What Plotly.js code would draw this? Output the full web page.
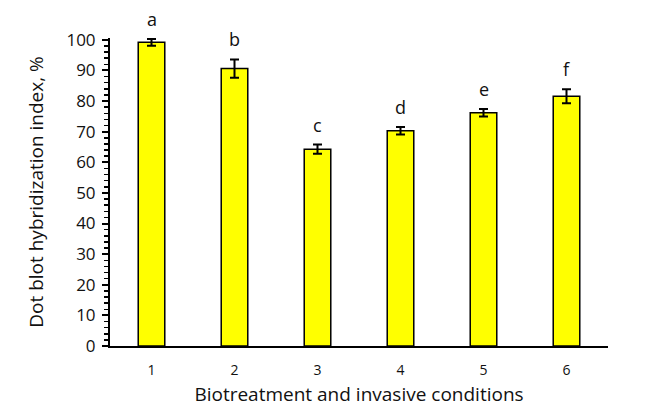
<!DOCTYPE html>
<html><head><meta charset="utf-8">
<script src="https://cdn.plot.ly/plotly-3.0.1.min.js"></script>
<style>html,body{margin:0;padding:0;background:#fff}#chart{width:654px;height:418px}</style>
</head><body><div id="chart"></div>
<script>
const categories = ["1", "2", "3", "4", "5", "6"];
const values = [99.2, 90.6, 64.3, 70.3, 76.2, 81.6];
const errors = [1.1, 3.0, 1.5, 1.2, 1.2, 2.3];
const letters = ["a", "b", "c", "d", "e", "f"];
const yTicks = [0, 10, 20, 30, 40, 50, 60, 70, 80, 90, 100];

const font = "Open Sans, Noto Sans, sans-serif";

const bars = {
  type: "bar",
  x: categories,
  y: values,
  width: 0.32,
  marker: {color: "#FFFF00", line: {color: "#000000", width: 1.5}},
  error_y: {type: "data", array: errors, visible: true, color: "#000000", thickness: 2, width: 4.5},
  hoverinfo: "none"
};

const annotations = categories.map((c, i) => ({
  x: i, y: values[i] + errors[i], xref: "x", yref: "y",
  text: letters[i], showarrow: false, yanchor: "bottom", yshift: 6,
  font: {family: font, size: 18, color: "#111"}
}));

const layout = {
  width: 654, height: 418,
  margin: {l: 110, r: 46, t: 38, b: 72},
  paper_bgcolor: "#fff", plot_bgcolor: "#fff",
  showlegend: false,
  annotations: annotations,
  xaxis: {
    type: "category", range: [-0.5, 5.5],
    showline: true, linecolor: "#000", linewidth: 2,
    ticks: "", showgrid: false, zeroline: false,
    tickfont: {family: font, size: 14, color: "#111"},
    ticklabelstandoff: 10,
    title: {text: "Biotreatment and invasive conditions", font: {family: font, size: 19, color: "#111"}, standoff: 10}
  },
  yaxis: {
    range: [0, 100.6], tickvals: yTicks,
    showline: true, linecolor: "#000", linewidth: 2,
    ticks: "outside", ticklen: 6, tickwidth: 2, tickcolor: "#000",
    minor: {dtick: 2, ticks: "outside", ticklen: 4, tickwidth: 1.5, tickcolor: "#000", showgrid: false},
    showgrid: false, zeroline: false,
    tickfont: {family: font, size: 17, color: "#111"},
    ticklabelstandoff: 3,
    title: {text: "Dot blot hybridization index, %", font: {family: font, size: 19, color: "#111"}, standoff: 18}
  }
};

Plotly.newPlot("chart", [bars], layout, {staticPlot: true, displayModeBar: false});
</script></body></html>
